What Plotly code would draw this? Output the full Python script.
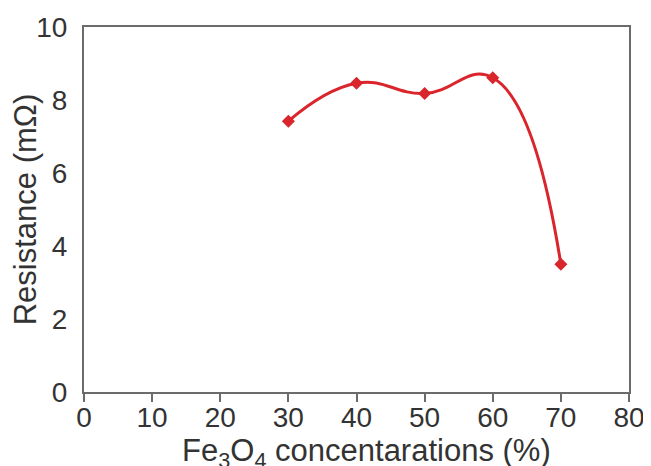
import plotly.graph_objects as go

concentration = [30, 40, 50, 60, 70]
resistance = [7.42, 8.46, 8.18, 8.61, 3.50]
x_ticks = [0, 10, 20, 30, 40, 50, 60, 70, 80]
y_ticks = [0, 2, 4, 6, 8, 10]
x_title = "Fe<sub>3</sub>O<sub>4</sub> concentarations (%)"
y_title = "Resistance (mΩ)"

fig = go.Figure()
fig.add_trace(go.Scatter(
    x=concentration, y=resistance, mode="lines+markers",
    line=dict(color="#d9252b", width=3, shape="spline", smoothing=1.3),
    marker=dict(symbol="diamond", size=10, color="#d9252b"),
    showlegend=False,
))

tick_font = dict(family="Liberation Sans, Arial, sans-serif", size=28, color="#333333")
title_font = dict(family="Liberation Sans, Arial, sans-serif", size=31, color="#333333")
fig.update_layout(
    width=643, height=458,
    margin=dict(l=76, r=22, t=19, b=74),
    paper_bgcolor="white", plot_bgcolor="white",
    font=tick_font,
    xaxis=dict(
        range=[0, 80], tickvals=x_ticks, showgrid=False, zeroline=False,
        showline=True, linecolor="#6b6b6b", linewidth=2, mirror=True,
        ticks="outside", ticklen=8, tickwidth=2, tickcolor="#6b6b6b",
        ticklabelstandoff=-9,
        tickfont=tick_font, automargin=False,
    ),
    yaxis=dict(
        range=[0, 10], tickvals=y_ticks, showgrid=False, zeroline=False,
        showline=True, linecolor="#6b6b6b", linewidth=2, mirror=True,
        ticks="", ticklabelstandoff=9,
        tickfont=tick_font, automargin=False,
        title=dict(text=y_title, font=title_font, standoff=0),
    ),
    annotations=[dict(
        text=x_title, xref="paper", yref="paper", x=0.519, y=-0.168,
        xanchor="center", yanchor="middle", showarrow=False, font=title_font,
    )],
)

fig.write_html("out.html")
